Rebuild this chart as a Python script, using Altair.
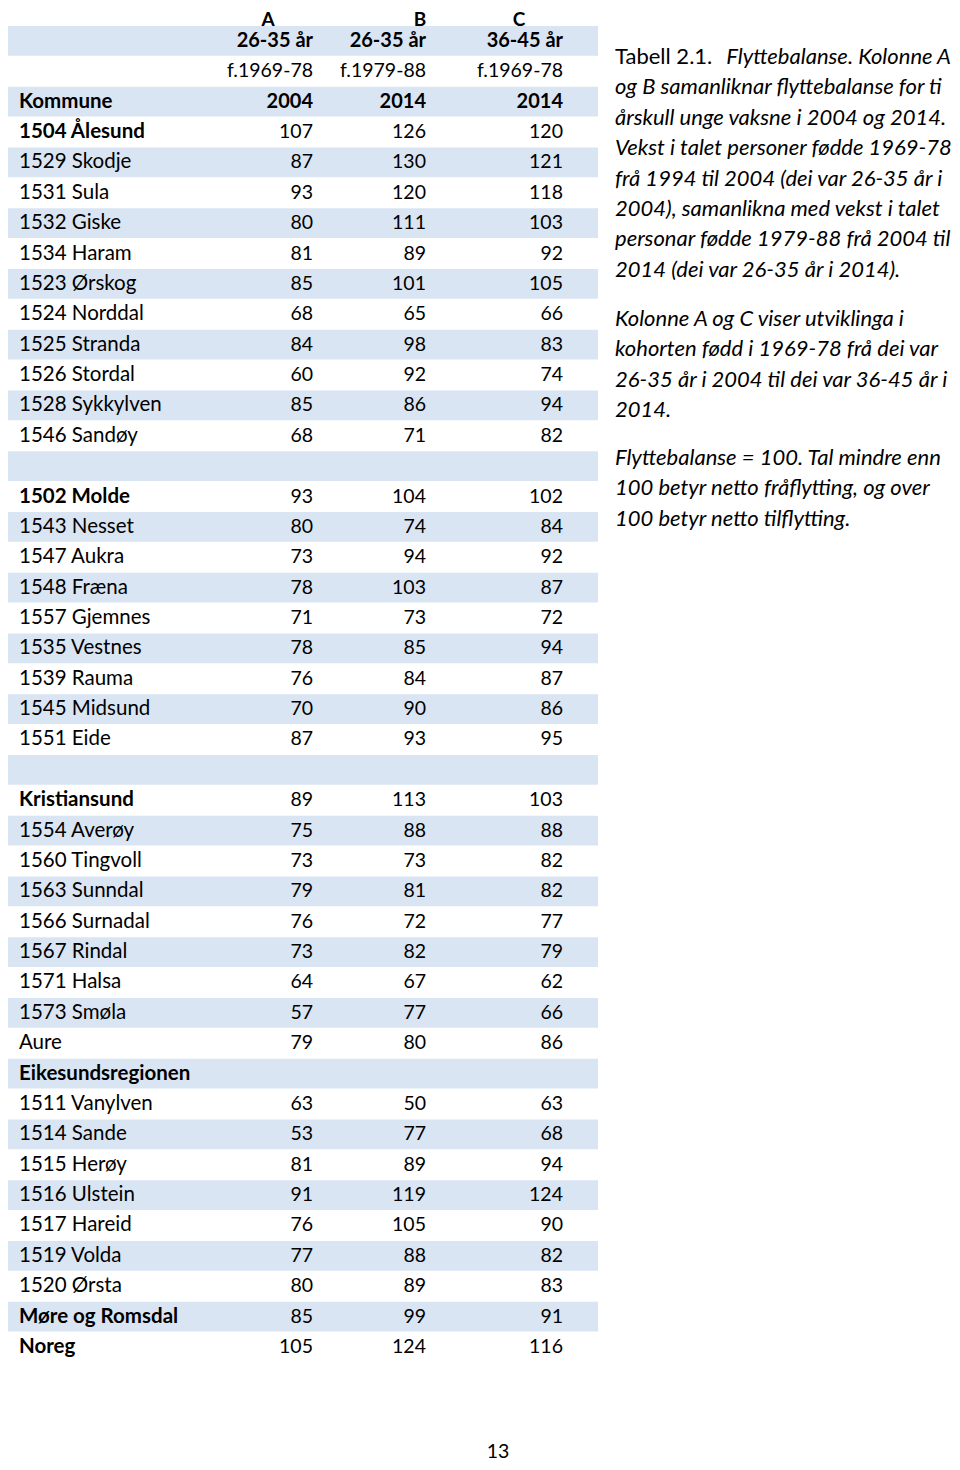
import altair as alt
import pandas as pd

# ---- data ----
col_letters = ["A", "B", "C"]
col_age = ["26-35 år", "26-35 år", "36-45 år"]
col_cohort = ["f.1969-78", "f.1979-88", "f.1969-78"]
col_year = ["2004", "2014", "2014"]

kommuner = [
    "1504 Ålesund", "1529 Skodje", "1531 Sula", "1532 Giske", "1534 Haram",
    "1523 Ørskog", "1524 Norddal", "1525 Stranda", "1526 Stordal",
    "1528 Sykkylven", "1546 Sandøy", "",
    "1502 Molde", "1543 Nesset", "1547 Aukra", "1548 Fræna", "1557 Gjemnes",
    "1535 Vestnes", "1539 Rauma", "1545 Midsund", "1551 Eide", "",
    "Kristiansund", "1554 Averøy", "1560 Tingvoll", "1563 Sunndal",
    "1566 Surnadal", "1567 Rindal", "1571 Halsa", "1573 Smøla", "Aure",
    "Eikesundsregionen", "1511 Vanylven", "1514 Sande", "1515 Herøy",
    "1516 Ulstein", "1517 Hareid", "1519 Volda", "1520 Ørsta",
    "Møre og Romsdal", "Noreg",
]
val_a = ["107", "87", "93", "80", "81", "85", "68", "84", "60", "85", "68", "",
         "93", "80", "73", "78", "71", "78", "76", "70", "87", "",
         "89", "75", "73", "79", "76", "73", "64", "57", "79",
         "", "63", "53", "81", "91", "76", "77", "80", "85", "105"]
val_b = ["126", "130", "120", "111", "89", "101", "65", "98", "92", "86", "71", "",
         "104", "74", "94", "103", "73", "85", "84", "90", "93", "",
         "113", "88", "73", "81", "72", "82", "67", "77", "80",
         "", "50", "77", "89", "119", "105", "88", "89", "99", "124"]
val_c = ["120", "121", "118", "103", "92", "105", "66", "83", "74", "94", "82", "",
         "102", "84", "92", "87", "72", "94", "87", "86", "95", "",
         "103", "88", "82", "82", "77", "79", "62", "66", "86",
         "", "63", "68", "94", "124", "90", "82", "83", "91", "116"]
bold_names = ["1504 Ålesund", "1502 Molde", "Kristiansund", "Eikesundsregionen",
              "Møre og Romsdal", "Noreg"]

para1 = [
    "og B samanliknar flyttebalanse for ti",
    "årskull unge vaksne i 2004 og 2014.",
    "Vekst i talet personer fødde 1969-78",
    "frå 1994 til 2004 (dei var 26-35 år i",
    "2004), samanlikna med vekst i talet",
    "personar fødde 1979-88 frå 2004 til",
    "2014 (dei var 26-35 år i 2014).",
]
para2 = [
    "Kolonne A og C viser utviklinga i",
    "kohorten fødd i 1969-78 frå dei var",
    "26-35 år i 2004 til dei var 36-45 år i",
    "2014.",
]
para3 = [
    " Flyttebalanse = 100. Tal mindre enn",
    "100 betyr netto fråflytting, og over",
    "100 betyr netto tilflytting.",
]
page_no = "13"

FONT = "Lato"
NFS = 20.5   # names
VFS = 19.5   # numbers
HFS = 20     # headers
PFS = 22     # side text

# column index: name 0, A_h 1, A 2, B_h 3, B 4, C_h 5, C 6
cidx = {"name": 0, "A_h": 1, "A": 2, "B_h": 3, "B": 4, "C_h": 5, "C": 6}

cells = []
for a, g, c, y in zip(col_letters, col_age, col_cohort, col_year):
    cells.append({"row": 0.3, "col": a + "_h", "text": a, "w": "bold"})
    cells.append({"row": 1, "col": a, "text": g, "w": "bold"})
    cells.append({"row": 2, "col": a, "text": c, "w": "normal"})
    cells.append({"row": 3, "col": a, "text": y, "w": "bold"})
cells.append({"row": 3, "col": "name", "text": "Kommune", "w": "bold"})
for k, name in enumerate(kommuner):
    r = 4 + k
    w = "bold" if name in bold_names else "normal"
    cells.append({"row": r, "col": "name", "text": name, "w": w})
    for cl, vals in zip(col_letters, [val_a, val_b, val_c]):
        if vals[k]:
            cells.append({"row": r, "col": cl, "text": vals[k], "w": "normal"})
df = pd.DataFrame(cells)
df["ci"] = df["col"].map(cidx)

n_rows = 4 + len(kommuner)
bands = pd.DataFrame({"row": [r for r in range(1, n_rows) if r % 2 == 1]})

yscale = alt.Scale(domain=[0, 44], range=[2.6, 2.6 + 30.37 * 44])
xscale = alt.Scale(domain=[0, 1, 2, 3, 4, 5, 6],
                   range=[11, 260, 305, 412, 418, 511, 555])

band = alt.Chart(bands).mark_rect(color="#DAE5F3").transform_calculate(
    lo="datum.row - 0.49", hi="datum.row + 0.49"
).encode(
    y=alt.Y("lo:Q", scale=yscale, axis=None),
    y2="hi:Q",
    x=alt.value(0),
    x2=alt.value(590),
)

base_text = alt.Chart(df).encode(
    y=alt.Y("row:Q", scale=yscale, axis=None),
    x=alt.X("ci:Q", scale=xscale, axis=None),
    text="text:N",
)

layers = [band]
for w in ["normal", "bold"]:
    layers.append(
        base_text.transform_filter(f"datum.col == 'name' && datum.w == '{w}'").mark_text(
            align="left", baseline="middle", font=FONT, fontSize=NFS, color="#000000",
            fontWeight=w,
        )
    )
    layers.append(
        base_text.transform_filter(
            f"(datum.col == 'A' || datum.col == 'B' || datum.col == 'C') && datum.w == '{w}'"
        ).mark_text(
            align="right", baseline="middle", font=FONT,
            fontSize=VFS if w == "normal" else HFS, color="#000000",
            fontWeight=w,
        )
    )
layers.append(
    base_text.transform_filter("indexof(datum.col, '_h') > 0").mark_text(
        align="center", baseline="middle", font=FONT, fontSize=19, color="#000000",
        fontWeight="bold",
    )
)

# side paragraphs
plines = []
for i, t in enumerate(para1):
    plines.append({"pos": 1.53 + (i + 1), "text": t})
for i, t in enumerate(para2):
    plines.append({"pos": 10.15 + i, "text": t})
for i, t in enumerate(para3):
    plines.append({"pos": 14.73 + i, "text": t})
pdf = pd.DataFrame(plines)

layers.append(alt.Chart(pdf).mark_text(
    align="left", baseline="middle", font=FONT, fontSize=PFS, fontStyle="italic",
    color="#000000",
).encode(
    y=alt.Y("pos:Q", scale=yscale, axis=None),
    x=alt.value(607),
    text="text:N",
))

first = pd.DataFrame({"pos": [1.53], "a": ["Tabell 2.1."], "b": ["Flyttebalanse.   Kolonne A"]})
layers.append(alt.Chart(first).mark_text(
    align="left", baseline="middle", font=FONT, fontSize=PFS, color="#000000"
).encode(y=alt.Y("pos:Q", scale=yscale, axis=None), x=alt.value(607), text="a:N"))
layers.append(alt.Chart(first).mark_text(
    align="right", baseline="middle", font=FONT, fontSize=PFS, fontStyle="italic",
    color="#000000"
).encode(y=alt.Y("pos:Q", scale=yscale, axis=None), x=alt.value(943), text="b:N"))

pg = pd.DataFrame({"pos": [47.45], "text": [page_no]})
layers.append(alt.Chart(pg).mark_text(
    align="center", baseline="middle", font=FONT, fontSize=VFS, color="#000000"
).encode(y=alt.Y("pos:Q", scale=yscale, axis=None), x=alt.value(490), text="text:N"))

chart = alt.layer(*layers).properties(
    width=944, height=1454, padding=0, background="#ffffff",
    autosize=alt.AutoSizeParams(type="none"),
).configure_view(stroke=None)

chart.save("out.html", embed_options={"renderer": "svg", "actions": False})
